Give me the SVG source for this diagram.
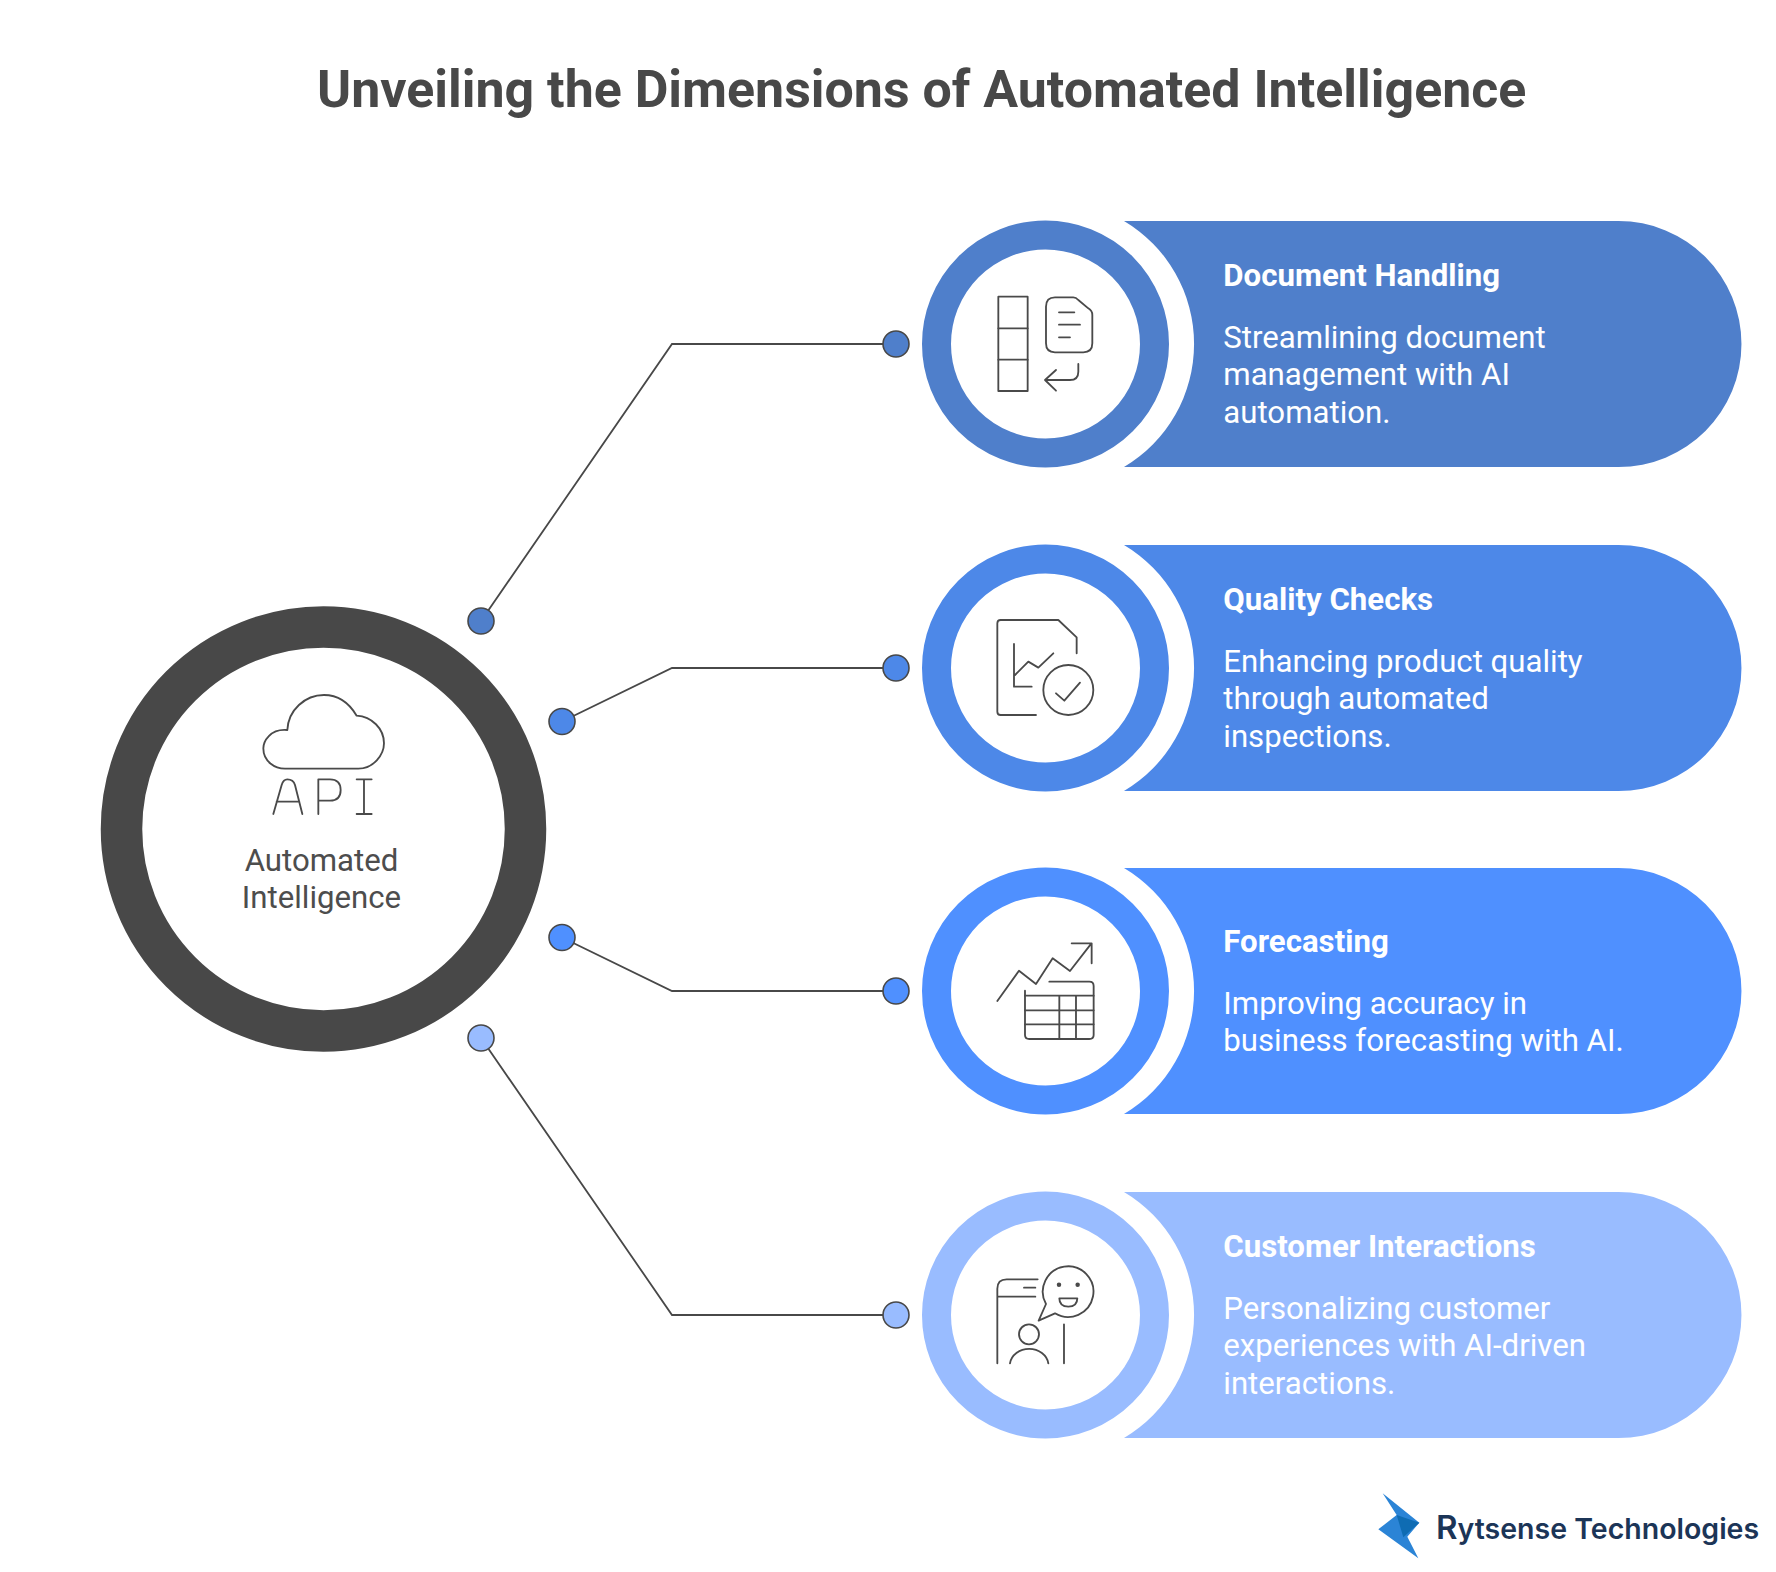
<svg xmlns="http://www.w3.org/2000/svg" width="1776" height="1572" viewBox="0 0 1776 1572">
<defs>
<style>
text{font-family:Roboto,"Liberation Sans",sans-serif}
.title{font-size:51.9px;font-weight:700;fill:#484848}
.h{font-size:31.2px;font-weight:700;fill:#fff}
.b{font-size:31.2px;fill:#fff}
.c{font-size:31.2px;fill:#4d4d4d;text-anchor:middle}
.ic{fill:none;stroke:#4a4a4a;stroke-width:5.5;stroke-linecap:round;stroke-linejoin:round}
.cn{fill:none;stroke:#484848;stroke-width:1.8}
.dot{stroke:#484848;stroke-width:1.6}
.logo{font-family:Inter,"Open Sans",sans-serif;font-weight:600;font-size:28.5px;fill:#1c3557}
</style>
<path id="pill" d="M1124,-123 H1618.5 A123,123 0 0 1 1618.5,123 H1124 A143,143 0 0 0 1124,-123 Z"/>
</defs>
<rect width="1776" height="1572" fill="#fff"/>
<text class="title" x="317" y="107">Unveiling the Dimensions of Automated Intelligence</text>
<g id="connectors">
<path class="cn" d="M481,621 L672,344 H896"/>
<path class="cn" d="M562,721.5 L672,668 H896"/>
<path class="cn" d="M562,937.5 L672,991 H896"/>
<path class="cn" d="M481,1038 L672,1315 H896"/>
<circle class="dot" cx="481" cy="621" r="13" fill="#4f7fcb"/>
<circle class="dot" cx="896" cy="344" r="13" fill="#4f7fcb"/>
<circle class="dot" cx="562" cy="721.5" r="13" fill="#4d88e8"/>
<circle class="dot" cx="896" cy="668" r="13" fill="#4d88e8"/>
<circle class="dot" cx="562" cy="937.5" r="13" fill="#4f90ff"/>
<circle class="dot" cx="896" cy="991" r="13" fill="#4f90ff"/>
<circle class="dot" cx="481" cy="1038" r="13" fill="#99bcff"/>
<circle class="dot" cx="896" cy="1315" r="13" fill="#99bcff"/>
</g>
<g id="center">
<circle cx="323.5" cy="829" r="202" fill="#fff" stroke="#484848" stroke-width="41.5"/>
<g class="ic" transform="translate(230,680) scale(.3333)">
<path d="M172,150 C120,145 100,185 100,205 C100,245 135,266 165,266 H385 C430,266 462,225 462,190 C462,145 425,110 380,107 C355,65 320,45 282,45 C225,45 175,90 172,150"/>
<path d="M130,402 L155,315 Q160,298 172,298 Q190,298 195,315 L217,402 M140,365 H208"/>
<path d="M265,402 V298 H300 Q332,298 332,330 Q332,362 300,362 H265"/>
<path d="M380,298 H425 M402,298 V402 M380,402 H425"/>
</g>
<text class="c" x="321.5" y="871">Automated</text>
<text class="c" x="321.5" y="908">Intelligence</text>
</g>
<g id="node-document-handling" fill="#4f7fcb">
<circle cx="1045.5" cy="344" r="109" fill="#fff" stroke="#4f7fcb" stroke-width="29"/>
<use href="#pill" y="344"/>
<text class="h" x="1223.3" y="286">Document Handling</text>
<text class="b" x="1223.3" y="348">Streamlining document</text>
<text class="b" x="1223.3" y="385">management with AI</text>
<text class="b" x="1223.3" y="423">automation.</text>
<g class="ic" transform="translate(960,280) scale(.3333)">
<rect x="115" y="50" width="88" height="283"/>
<path d="M115,145 H203 M115,239 H203"/>
<path d="M340,52 H285 Q258,52 258,80 V190 Q258,217 285,217 H370 Q397,217 397,190 V105 Q397,92 385,85 L355,60 Q348,52 340,52 Z"/>
<path d="M297,97 H343 M297,134 H360 M297,172 H330"/>
<path d="M355,252 V275 Q355,300 330,300 H258 M288,270 L255,300 L288,332"/>
</g>
</g>
<g id="node-quality-checks" fill="#4d88e8">
<circle cx="1045.5" cy="668" r="109" fill="#fff" stroke="#4d88e8" stroke-width="29"/>
<use href="#pill" y="668"/>
<text class="h" x="1223.3" y="610">Quality Checks</text>
<text class="b" x="1223.3" y="672">Enhancing product quality</text>
<text class="b" x="1223.3" y="709">through automated</text>
<text class="b" x="1223.3" y="747">inspections.</text>
<g class="ic" transform="translate(960,600) scale(.3333)">
<path d="M228,345 H122 Q112,345 112,335 V70 Q112,60 122,60 H295 L350,112 V160"/>
<path d="M162,132 V260 H215 M165,225 L205,185 L235,203 L280,160"/>
<circle cx="325" cy="270" r="75"/>
<path d="M288,280 L313,302 L360,248"/>
</g>
</g>
<g id="node-forecasting" fill="#4f90ff">
<circle cx="1045.5" cy="991" r="109" fill="#fff" stroke="#4f90ff" stroke-width="29"/>
<use href="#pill" y="991"/>
<text class="h" x="1223.3" y="952">Forecasting</text>
<text class="b" x="1223.3" y="1014">Improving accuracy in</text>
<text class="b" x="1223.3" y="1051">business forecasting with AI.</text>
<g class="ic" transform="translate(960,925) scale(.3333)">
<path d="M112,228 L177,137 L228,177 L278,100 L330,138 L392,58 M335,55 H395 V115"/>
<path d="M268,170 H388 Q401,170 401,183 V330 Q401,342 388,342 H208 Q195,342 195,330 V197"/>
<path d="M195,212 H401 M195,256 H401 M195,298 H401 M298,212 V342 M348,212 V342"/>
</g>
</g>
<g id="node-customer-interactions" fill="#99bcff">
<circle cx="1045.5" cy="1315" r="109" fill="#fff" stroke="#99bcff" stroke-width="29"/>
<use href="#pill" y="1315"/>
<text class="h" x="1223.3" y="1257">Customer Interactions</text>
<text class="b" x="1223.3" y="1319">Personalizing customer</text>
<text class="b" x="1223.3" y="1356">experiences with AI-driven</text>
<text class="b" x="1223.3" y="1394">interactions.</text>
<g class="ic" transform="translate(960,1250) scale(.3333)">
<path d="M233,88 H140 Q112,88 112,116 V340 M112,140 H226 M192,113 H226 M312,223 V340"/>
<path d="M285,190 A76,76 0 1 0 258,162 L236,212 Z"/>
<circle cx="297" cy="104" r="4" fill="#4a4a4a"/>
<circle cx="353" cy="104" r="4" fill="#4a4a4a"/>
<path d="M298,145 H352 Q352,170 325,170 Q298,170 298,145 Z"/>
<circle cx="207" cy="253" r="30"/>
<path d="M150,340 A58,50 0 0 1 265,340"/>
</g>
</g>
<g id="logo">
<g transform="translate(1360,1480) scale(.3333)">
<path d="M68,40 L178,128 L142,170 L175,235 L55,148 L110,105 Z" fill="#2b84d6"/>
<path d="M110,105 L178,128 L130,172 Z" fill="#0f6cb3"/>
</g>
<text class="logo" x="1436" y="1539"><tspan font-size="33">R</tspan>ytsense Technologies</text>
</g>
</svg>
